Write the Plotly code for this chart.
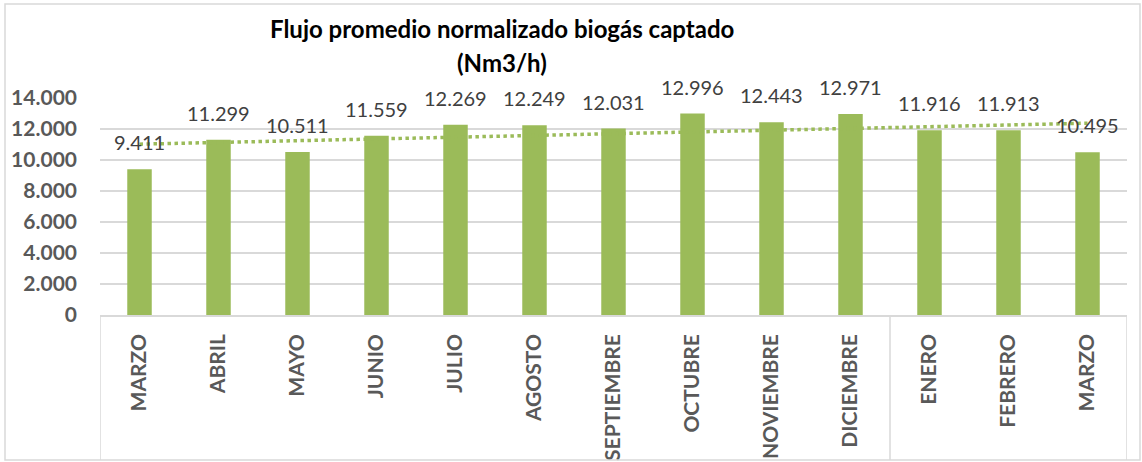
import numpy as np
import plotly.graph_objects as go

months = ["MARZO", "ABRIL", "MAYO", "JUNIO", "JULIO", "AGOSTO", "SEPTIEMBRE",
          "OCTUBRE", "NOVIEMBRE", "DICIEMBRE", "ENERO", "FEBRERO", "MARZO"]
flow = [9411, 11299, 10511, 11559, 12269, 12249, 12031, 12996, 12443, 12971,
        11916, 11913, 10495]
y_ticks = [0, 2000, 4000, 6000, 8000, 10000, 12000, 14000]
y_tick_text = ["0", "2.000", "4.000", "6.000", "8.000", "10.000", "12.000", "14.000"]
year_breaks = [-0.5, 9.5, 12.5]
title_lines = ["Flujo promedio normalizado biogás captado", "(Nm3/h)"]

FONT = "Lato"
GREEN = "#9BBB59"
GRID = "#D9D9D9"
xs = list(range(len(months)))

slope, intercept = np.polyfit(np.array(xs) + 1, np.array(flow), 1)
trend = [slope * (x + 1) + intercept for x in xs]

fig = go.Figure()
fig.add_trace(go.Bar(x=xs, y=flow, marker=dict(color=GREEN, line=dict(width=0)),
                     width=0.31, showlegend=False, hoverinfo="y"))
fig.add_trace(go.Scatter(x=xs, y=trend, mode="lines",
                         line=dict(color=GREEN, width=3.5, dash="dot"),
                         showlegend=False, hoverinfo="skip"))

annotations = []
for x, v in zip(xs, flow):
    annotations.append(dict(x=x, y=v, xref="x", yref="y", text=f"{v:,}".replace(",", "."),
                            showarrow=False, yanchor="bottom", yshift=13,
                            font=dict(family=FONT, size=20, color="#404040")))

for text, yc in zip(title_lines, [28, 62]):
    annotations.append(dict(x=(502 - 100) / 1027, y=(315 - yc) / 217, xref="paper", yref="paper",
                            text="<b>%s</b>" % text, showarrow=False,
                            xanchor="center", yanchor="middle",
                            font=dict(family=FONT, size=24, color="#000000")))

shapes = []
for b in year_breaks:
    shapes.append(dict(type="line", xref="x", yref="paper", x0=b, x1=b, y0=0, y1=(315 - 460) / 217,
                       line=dict(color=GRID, width=1.5)))
# chart border
shapes.append(dict(type="rect", xref="paper", yref="paper",
                   x0=(5 - 100) / 1027, x1=(1140 - 100) / 1027,
                   y0=(315 - 460) / 217, y1=(315 - 4) / 217,
                   line=dict(color=GRID, width=1.5)))

fig.update_layout(
    width=1142, height=462,
    margin=dict(l=100, r=15, t=98, b=147, autoexpand=False),
    paper_bgcolor="white", plot_bgcolor="white",
    annotations=annotations, shapes=shapes,
    xaxis=dict(tickmode="array", tickvals=xs, ticktext=months, tickangle=-90,
               range=[-0.5, 12.5], showgrid=False, zeroline=False,
               showline=True, linecolor=GRID, linewidth=1.5,
               ticks="", ticklabelstandoff=9, automargin=False,
               tickfont=dict(family=FONT, size=21, color="#595959", weight="bold")),
    yaxis=dict(tickmode="array", tickvals=y_ticks, ticktext=y_tick_text,
               range=[0, 14000], showgrid=True, gridcolor=GRID, gridwidth=1.5,
               zeroline=False, showline=False, ticks="", ticklabelstandoff=22,
               automargin=False,
               tickfont=dict(family=FONT, size=21, color="#595959", weight="bold")),
)

fig.write_html("out.html", config={"displayModeBar": False},
               post_script="document.body.style.margin='0';")
